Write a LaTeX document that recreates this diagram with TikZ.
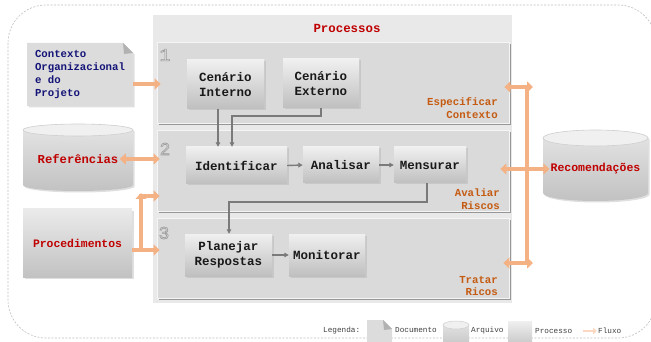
\documentclass[tikz,border=0pt]{standalone}
\usepackage{fontspec}
\setmonofont{Liberation Mono}
\usetikzlibrary{arrows.meta,shadows,calc}

\definecolor{flowOr}{HTML}{F4B183}
\definecolor{titleRed}{HTML}{C00000}
\definecolor{docBlue}{HTML}{141478}
\definecolor{stageOr}{HTML}{C55A11}
\definecolor{panelGray}{HTML}{DADADA}
\definecolor{frameGray}{HTML}{E9E9E9}
\definecolor{linkGray}{HTML}{7A7A7A}
\definecolor{cylTop}{HTML}{F0F0F0}
\definecolor{cylEdge}{HTML}{CFCFCF}
\definecolor{docFill}{HTML}{DCDCDC}

\newcommand\fProc{\ttfamily\bfseries\fontsize{12.5}{14.8}\selectfont}
\newcommand\fStage{\ttfamily\bfseries\fontsize{10.7}{12.5}\selectfont}
\newcommand\fDoc{\ttfamily\bfseries\fontsize{10.7}{12.7}\selectfont}
\newcommand\fStore{\ttfamily\bfseries\fontsize{12.2}{14}\selectfont}
\newcommand\fLeg{\ttfamily\fontsize{7.7}{9}\selectfont}
\newcommand\fNum{\ttfamily\fontsize{18}{18}\selectfont}
% hollow (stroked) glyphs for the stage numbers
\newcommand\hollowtext[1]{\special{pdf:literal direct 1 Tr 0.6 w}#1\special{pdf:literal direct 0 Tr}}

\tikzset{
  procbox/.style={top color=black!6, bottom color=black!25, inner sep=0pt,
    align=center, font=\fProc, text=black!90,
    drop shadow={shadow xshift=1.5pt, shadow yshift=-1.5pt, opacity=.2}},
  panel/.style={fill=panelGray, draw=black!4, line width=.8pt,
    minimum width=352pt, inner sep=0pt,
    drop shadow={shadow xshift=2pt, shadow yshift=-2pt, fill=black!55, opacity=.7}},
  stagelab/.style={font=\fStage, text=stageOr, align=right, anchor=east, inner sep=0pt},
  link/.style={draw=linkGray, line width=1.4pt, -{Triangle[length=4.5pt,width=4.5pt]}},
  flow/.style={draw=flowOr, line width=4.5pt, -{Triangle[length=6pt,width=11pt]}},
  flowboth/.style={flow, {Triangle[length=6pt,width=11pt]}-{Triangle[length=6pt,width=11pt]}},
  stepnum/.style={font=\fNum, text=black!40},
  legtext/.style={font=\fLeg, text=black!75, anchor=west, inner sep=0pt},
  softshadow/.style={drop shadow={shadow xshift=1.5pt, shadow yshift=-1.5pt, opacity=.25}},
}

\begin{document}
\begin{tikzpicture}[x=1pt,y=-1pt]
\useasboundingbox (0,0) rectangle (651,342);

% outer dashed frame
\draw[black!25, line width=.6pt, dash pattern=on 2pt off 1.5pt, rounded corners=38pt]
  (8,5) rectangle (656,338);

% process container and title
\fill[frameGray] (153,15) rectangle (512,303);
\node[font=\ttfamily\bfseries\fontsize{12.4}{14}\selectfont, text=titleRed] (title) at (347,28) {Processos};

% stage panels
\node[panel, minimum height=81pt] (p1) at (333,82.5) {};
\node[panel, minimum height=81pt] (p2) at (333,170.5) {};
\node[panel, minimum height=80pt] (p3) at (333,258) {};
\node[stepnum] (n1) at (165,55) {\hollowtext{1}};
\node[stepnum] (n2) at (165,149) {\hollowtext{2}};
\node[stepnum] (n3) at (164,233) {\hollowtext{3}};

% processes
\node[procbox, minimum width=77pt, minimum height=49pt] (ci) at (225.5,84.5) {Cenário\\Interno};
\node[procbox, minimum width=76pt, minimum height=49pt] (ce) at (321,83.5) {Cenário\\Externo};
\node[procbox, minimum width=101pt, minimum height=37pt] (id) at (236.5,165.5) {Identificar};
\node[procbox, minimum width=76pt, minimum height=36pt] (an) at (341,165) {Analisar};
\node[procbox, minimum width=72pt, minimum height=36pt] (me) at (430,165) {Mensurar};
\node[procbox, minimum width=87pt, minimum height=42pt] (pl) at (228.5,255) {Planejar\\Respostas};
\node[procbox, minimum width=76pt, minimum height=42pt] (mo) at (327,255) {Monitorar};

% process links
\draw[link] ([xshift=-7.5pt]ci.south) -- ([xshift=-7.5pt]ci.south |- id.north);
\coordinate (j1) at (232,116);
\draw[link] (ce.south) |- (j1) -- (j1 |- id.north);
\draw[link] (id.east) -- (an.west);
\draw[link] (an.east) -- (me.west);
\coordinate (j2) at (229,202);
\draw[link] ([xshift=-3pt]me.south) |- (j2) -- (j2 |- pl.north);
\draw[link] (pl.east) -- (mo.west);

% stage labels
\node[stagelab] (s1) at (498,108) {Especificar\\Contexto};
\node[stagelab] (s2) at (500,199) {Avaliar\\Riscos};
\node[stagelab] (s3) at (498,286) {Tratar\\Ricos};

% context document
\path[fill=docFill, softshadow] (27,43) -- (123,43) -- (133,53) -- (133,106) -- (27,106) -- cycle;
\fill[black!30] (123,43) -- (133,53) -- (124,54) -- cycle;
\node[font=\fDoc, text=docBlue, align=left, minimum width=106pt, minimum height=63pt, inner sep=0pt]
  (ctx) at (80,74.5) {Contexto\\Organizacional\\e do\\Projeto};

% references store
\shade[top color=black!10, bottom color=black!24, softshadow]
  (23,130) -- (23,185) arc[start angle=180, end angle=360, x radius=55pt, y radius=6pt]
  -- (133,130) arc[start angle=0, end angle=180, x radius=55pt, y radius=6pt] -- cycle;
\filldraw[fill=cylTop, draw=cylEdge, line width=.6pt] (78,130) ellipse [x radius=55pt, y radius=6pt];
\node[font=\fStore, text=titleRed] (ref) at (78,159) {Referências};

% procedures
\node[top color=black!8, bottom color=black!24, softshadow, minimum width=109pt, minimum height=68pt,
  font=\ttfamily\bfseries\fontsize{11.4}{13}\selectfont, text=titleRed] (proc) at (77.5,243) {Procedimentos};

% recommendations store
\shade[top color=black!10, bottom color=black!24, softshadow]
  (543,138) -- (543,193) arc[start angle=180, end angle=360, x radius=52.5pt, y radius=8pt]
  -- (648,138) arc[start angle=0, end angle=180, x radius=52.5pt, y radius=8pt] -- cycle;
\filldraw[fill=cylTop, draw=cylEdge, line width=.6pt] (595.5,138) ellipse [x radius=52.5pt, y radius=8pt];
\node[font=\ttfamily\bfseries\fontsize{11.5}{13}\selectfont, text=titleRed, inner sep=1pt] (rec) at (595.5,169) {Recomendações};

% input flows
\draw[flow, shorten >=-4pt] ([yshift=-9.5pt]ctx.east) -- ([yshift=-9.5pt]ctx.east -| p1.west);
\draw[flowboth, shorten <=-2pt, shorten >=-3pt] (ref.east) -- (ref.east -| p2.west);
\draw[flow, shorten >=-3pt] ([yshift=-7pt]proc.east) -- ([yshift=-7pt]proc.east -| p3.west);
\coordinate (pv) at (141,196);
\draw[flow, shorten >=-3pt] ([yshift=-7pt]proc.east) -| (pv) -- (pv -| p2.west);
\draw[flow] ([yshift=-8pt]pv) -- ([yshift=3pt]pv);

% output flows
\coordinate (rt) at (527,87);
\coordinate (rb) at (527,263);
\draw[draw=flowOr, line width=4.5pt] (rt) -- (rb);
\draw[flowboth, shorten <=-5pt] (rt -| p1.east) -- ([xshift=6pt]rt);
\draw[flowboth, shorten <=-9pt] ([yshift=1.5pt]p2.east) -- (rec.west);
\draw[flowboth, shorten <=-6pt] (rb -| p3.east) -- ([xshift=6pt]rb);

% legend
\node[legtext] (lg) at (323,331) {Legenda:};
\path[fill=docFill] (367,320) -- (383,320) -- (392,329) -- (392,345) -- (367,345) -- cycle;
\fill[black!30] (383,320) -- (392,329) -- (384,330) -- cycle;
\node[legtext] (lgd) at (395,330) {Documento};
\shade[top color=black!10, bottom color=black!22]
  (443,325) -- (443,345) -- (469,345) -- (469,325) arc[start angle=0, end angle=180, x radius=13pt, y radius=4pt] -- cycle;
\filldraw[fill=cylTop, draw=cylEdge, line width=.5pt] (456,325) ellipse [x radius=13pt, y radius=4pt];
\node[legtext] (lga) at (471,331) {Arquivo};
\shade[top color=black!6, bottom color=black!22] (508,321) rectangle (532,345);
\node[legtext] (lgp) at (535,331) {Processo};
\draw[draw=flowOr!50!white, line width=2.5pt, -{Triangle[length=4pt,width=6.5pt]}] (583,331) -- (597,331);
\node[legtext] (lgf) at (598,331) {Fluxo};
\end{tikzpicture}
\end{document}
